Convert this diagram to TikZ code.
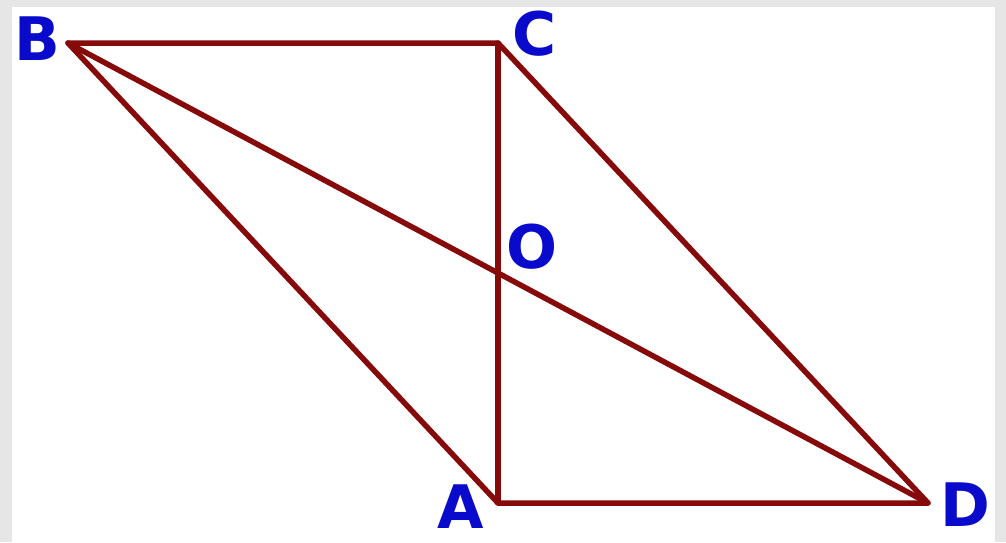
\documentclass[tikz,border=0pt]{standalone}
\usepackage{fontspec}
\setmainfont{DejaVu Sans}
\definecolor{edge}{HTML}{860A0A}
\definecolor{lab}{HTML}{0A0ACC}
\definecolor{bg}{HTML}{E6E6E6}
\begin{document}
\begin{tikzpicture}[x=1pt,y=-1pt,
  seg/.style={draw=edge,line width=5.5pt,line cap=round,line join=round},
  lbl/.style={text=lab,font=\fontsize{60}{60}\selectfont\bfseries,inner sep=0pt}]
\fill[bg] (0,0) rectangle (1006,542);
\fill[white] (12,7) rectangle (995,542);
\useasboundingbox (0,0) rectangle (1006,542);
\coordinate (B) at (68,43);
\coordinate (C) at (498,43);
\coordinate (A) at (498,503);
\coordinate (D) at (928,503);
\coordinate (O) at (498,273);
\draw[seg] (B) -- (C) -- (D) -- (A) -- (B);
\draw[seg] (B) -- (D);
\draw[seg] (C) -- (A);
\node[lbl] (lB) at (37,39) {B};
\node[lbl] (lC) at (535,34) {C};
\node[lbl] (lO) at (532,247) {O};
\node[lbl] (lA) at (461,507) {A};
\node[lbl] (lD) at (965,505) {D};
\end{tikzpicture}
\end{document}
